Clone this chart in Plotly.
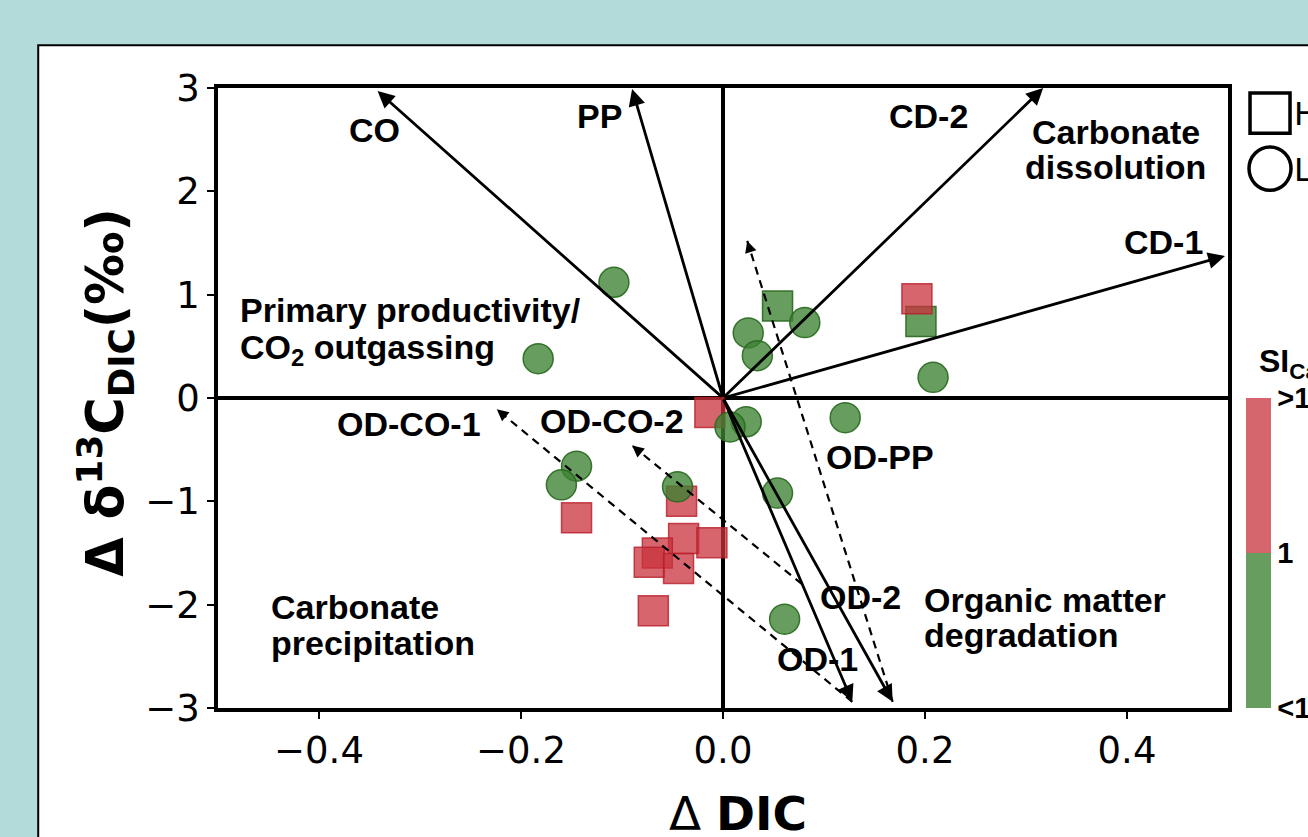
import plotly.graph_objects as go

# ---- data -------------------------------------------------------------
# Square markers (H group): ΔDIC, Δδ13C and calcite saturation class (1 = above 1)
sq_dic = [0.054, 0.196, 0.192, -0.013, -0.145, -0.041, -0.039, -0.011, -0.065, -0.073, -0.044, -0.069]
sq_d13c = [0.89, 0.74, 0.96, -0.14, -1.16, -1.00, -1.36, -1.40, -1.50, -1.59, -1.65, -2.06]
sq_si_high = [0, 0, 1, 1, 1, 1, 1, 1, 1, 1, 1, 1]

# Circle markers (L group)
ci_dic = [-0.108, -0.183, -0.145, -0.160, -0.045, 0.025, 0.034, 0.081, 0.208, 0.121, 0.023, 0.007, 0.054, 0.061]
ci_d13c = [1.12, 0.38, -0.66, -0.84, -0.86, 0.63, 0.41, 0.73, 0.20, -0.19, -0.23, -0.28, -0.92, -2.14]
ci_si_high = [0, 0, 0, 0, 0, 0, 0, 0, 0, 0, 0, 0, 0, 0]

# Process vectors from the origin (solid arrows): name, ΔDIC, Δδ13C
vec_names = ["CO", "PP", "CD-2", "CD-1", "OD-1", "OD-2"]
vec_dic = [-0.342, -0.090, 0.317, 0.497, 0.128, 0.168]
vec_d13c = [2.97, 2.99, 3.00, 1.375, -2.94, -2.94]

# Combined process paths (dashed arrows): start and end points
path_names = ["OD-PP", "OD-CO-1", "OD-CO-2"]
path_dic_start = [0.168, 0.128, 0.078]
path_d13c_start = [-2.94, -2.94, -1.80]
path_dic_end = [0.024, -0.224, -0.090]
path_d13c_end = [1.52, -0.11, -0.46]

x_ticks = [-0.4, -0.2, 0.0, 0.2, 0.4]
y_ticks = [-3, -2, -1, 0, 1, 2, 3]
si_ticktext = ["<1", "1", ">1"]

# ---- styling ----------------------------------------------------------
GREEN = "rgba(60,130,50,0.78)"
RED = "rgba(200,50,60,0.75)"
GREEN_EDGE = "rgba(40,105,30,0.9)"
RED_EDGE = "rgba(185,30,40,0.8)"
LABEL_FONT = dict(family="Liberation Sans, Arial", size=34, color="black", weight="bold")
TICK_FONT = dict(family="DejaVu Sans", size=37, color="black")


def si_value(flags):
    return [1.5 if f else 0.5 for f in flags]


def edge_colors(flags):
    return [RED_EDGE if f else GREEN_EDGE for f in flags]


fig = go.Figure()

fig.add_trace(go.Scatter(
    x=sq_dic, y=sq_d13c, mode="markers", name="H",
    marker=dict(symbol="square", size=30, color=si_value(sq_si_high), coloraxis="coloraxis",
                line=dict(width=1.5, color=edge_colors(sq_si_high))),
))
fig.add_trace(go.Scatter(
    x=ci_dic, y=ci_d13c, mode="markers", name="L",
    marker=dict(symbol="circle", size=30, color=si_value(ci_si_high), coloraxis="coloraxis",
                line=dict(width=1.5, color=edge_colors(ci_si_high))),
))

# dashed process paths
for name, xs, ys, xe, ye in zip(path_names, path_dic_start, path_d13c_start, path_dic_end, path_d13c_end):
    fig.add_trace(go.Scatter(
        x=[xs, xe], y=[ys, ye], mode="lines", name=name,
        line=dict(color="black", width=2.2, dash="8px,6px"),
        hoverinfo="skip",
    ))
    # arrowhead at the end of the dashed path
    fig.add_annotation(
        x=xe, y=ye, ax=xe + (xs - xe) * 0.025, ay=ye + (ys - ye) * 0.025,
        xref="x", yref="y", axref="x", ayref="y", text="", showarrow=True,
        arrowhead=2, arrowsize=1.3, arrowwidth=1.8, arrowcolor="black", standoff=0,
    )

# solid vectors from the origin
for name, xe, ye in zip(vec_names, vec_dic, vec_d13c):
    fig.add_annotation(
        x=xe, y=ye, ax=0, ay=0, xref="x", yref="y", axref="x", ayref="y",
        text="", showarrow=True, arrowhead=2, arrowsize=1.2, arrowwidth=2.8,
        arrowcolor="black", standoff=0,
    )

# arrow names
arrow_labels = [
    ("CO", -0.345, 2.59), ("PP", -0.122, 2.73), ("CD-2", 0.203, 2.73), ("CD-1", 0.436, 1.51),
    ("OD-CO-1", -0.311, -0.25), ("OD-CO-2", -0.110, -0.22), ("OD-PP", 0.155, -0.57),
    ("OD-2", 0.136, -1.93), ("OD-1", 0.094, -2.53),
]
for txt, x, y in arrow_labels:
    fig.add_annotation(x=x, y=y, xref="x", yref="y", text=txt, showarrow=False,
                       font=LABEL_FONT, xanchor="center", yanchor="middle")

# quadrant descriptions
region_labels = [
    ("Primary productivity/", -0.480, 0.85, "left"),
    ("CO<sub>2</sub> outgassing", -0.480, 0.47, "left"),
    ("Carbonate", 0.389, 2.575, "center"),
    ("dissolution", 0.389, 2.235, "center"),
    ("Carbonate", -0.450, -2.02, "left"),
    ("precipitation", -0.450, -2.37, "left"),
    ("Organic matter", 0.197, -1.955, "left"),
    ("degradation", 0.197, -2.29, "left"),
]
for txt, x, y, anchor in region_labels:
    fig.add_annotation(x=x, y=y, xref="x", yref="y", text=txt, showarrow=False,
                       font=LABEL_FONT, xanchor=anchor, yanchor="middle")

# axis titles
fig.add_annotation(x=0.515, y=-0.17, xref="paper", yref="paper", xanchor="center", yanchor="middle",
                   text="Δ <b>DIC</b>", showarrow=False,
                   font=dict(family="DejaVu Sans", size=47, color="black"))
fig.add_annotation(x=-0.111, y=0.51, xref="paper", yref="paper", xanchor="center", yanchor="middle",
                   textangle=-90,
                   text="<b>Δ δ<sup>13</sup>C<sub>DIC</sub>(‰)</b>", showarrow=False,
                   font=dict(family="DejaVu Sans", size=51, color="black"))

# colour bar title
fig.add_annotation(x=1.029, y=0.556, xref="paper", yref="paper", xanchor="left", yanchor="middle",
                   text="SI<sub>Calcite</sub>", showarrow=False,
                   font=dict(family="Liberation Sans, Arial", size=32, color="black", weight="bold"))

# marker legend (H squares, L circles)
fig.add_shape(type="rect", xref="paper", yref="paper", x0=1.0218, x1=1.0614, y0=0.927, y1=0.992,
              line=dict(color="black", width=3.5), fillcolor="white")
fig.add_shape(type="circle", xref="paper", yref="paper", x0=1.0208, x1=1.0624, y0=0.835, y1=0.905,
              line=dict(color="black", width=3.5), fillcolor="white")
fig.add_annotation(x=1.063, y=0.958, xref="paper", yref="paper", xanchor="left", yanchor="middle",
                   text="High tide", showarrow=False,
                   font=dict(family="DejaVu Sans", size=32, color="black"))
fig.add_annotation(x=1.063, y=0.868, xref="paper", yref="paper", xanchor="left", yanchor="middle",
                   text="Low tide", showarrow=False,
                   font=dict(family="DejaVu Sans", size=32, color="black"))

# white figure panel on the tinted page
fig.add_shape(type="rect", xref="paper", yref="paper", x0=-0.178, x1=1.3, y0=-0.3, y1=1.069,
              line=dict(color="black", width=2), fillcolor="white", layer="below")

axis_common = dict(
    showgrid=False, zeroline=True, zerolinecolor="black", zerolinewidth=3.5,
    showline=True, linecolor="black", linewidth=3.5, mirror=True,
    ticks="outside", ticklen=7, tickwidth=1.5, tickcolor="black", tickfont=TICK_FONT,
)

fig.update_layout(
    width=1308, height=837,
    margin=dict(l=218, r=80, t=88, b=129, autoexpand=False),
    paper_bgcolor="#b3dbd9", plot_bgcolor="white",
    showlegend=False,
    xaxis=dict(range=[-0.5, 0.5], tickvals=x_ticks, tickformat=".1f", **axis_common),
    yaxis=dict(range=[-3, 3], tickvals=y_ticks, tickformat="d", **axis_common),
    coloraxis=dict(
        cmin=0, cmax=2,
        colorscale=[[0, GREEN], [0.5, GREEN], [0.5, RED], [1, RED]],
        colorbar=dict(
            x=1.0178, xanchor="left", xpad=0, y=0, yanchor="bottom", ypad=0,
            len=0.5, lenmode="fraction", thickness=25, thicknessmode="pixels",
            outlinewidth=0, tickvals=[0, 1, 2], ticktext=si_ticktext, ticks="",
            tickfont=dict(family="Liberation Sans, Arial", size=29, color="black", weight="bold"),
        ),
    ),
)

fig.write_html("out.html")
